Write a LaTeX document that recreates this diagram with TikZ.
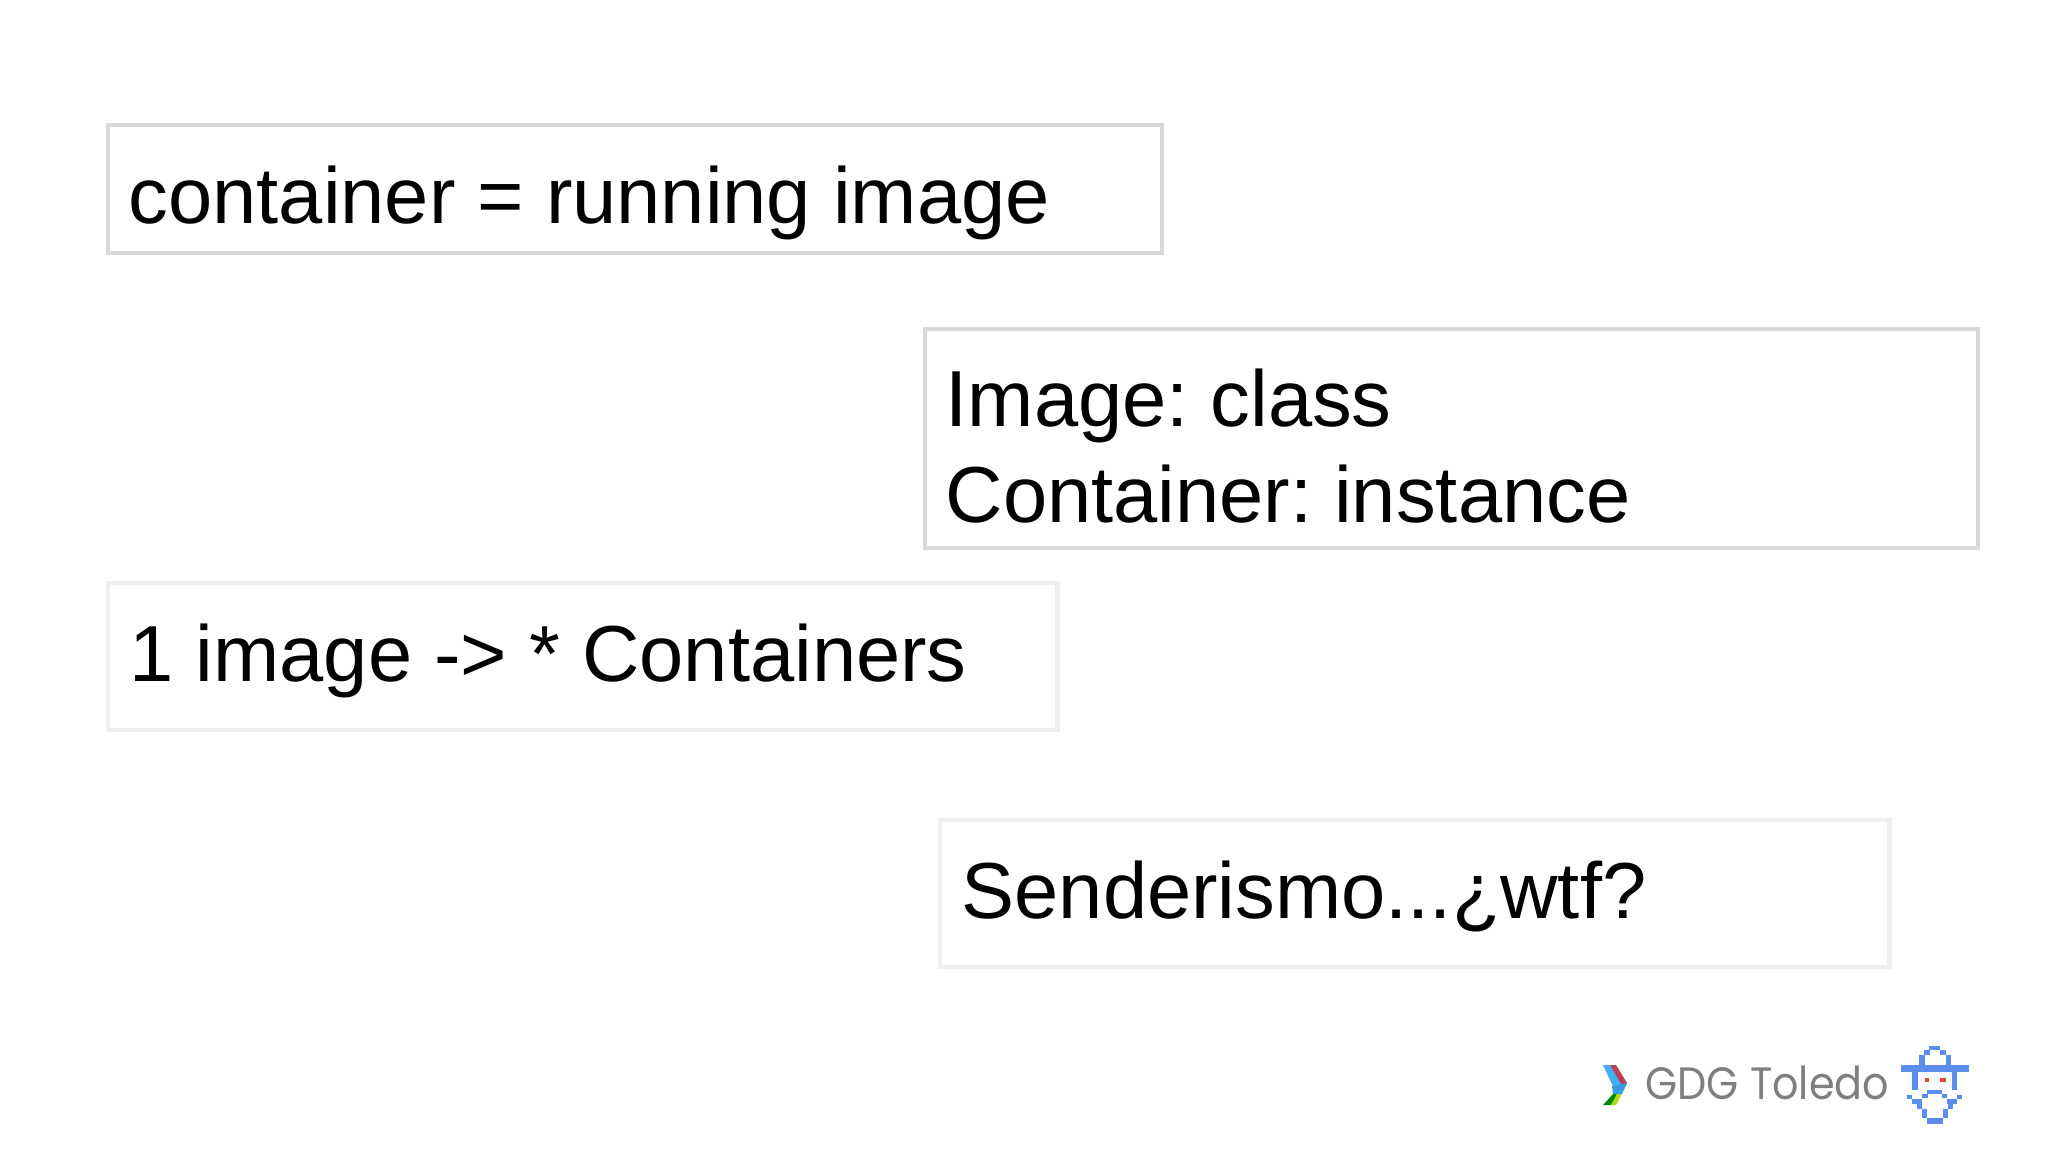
\documentclass[tikz,border=0pt]{standalone}
\usepackage{fontspec}
\setmainfont{Liberation Sans}
\newfontfamily\logofont{Poppins}
\usetikzlibrary{positioning}
\definecolor{boxdark}{HTML}{D9D9D9}
\definecolor{boxlight}{HTML}{EFEFEF}
\definecolor{logoblue}{HTML}{5B8EEC}
\definecolor{logored}{HTML}{DB4A37}
\definecolor{logogray}{HTML}{7F7F7F}
\tikzset{
    slidebox/.style={draw=#1, line width=1.2pt, outer sep=0pt, inner sep=0pt, anchor=north west},
    slidetext/.style={font=\frenchspacing\fontsize{22.6}{27.3}\selectfont, inner sep=0pt, anchor=base west, align=left},
}

\begin{document}
\begin{tikzpicture}[x=0.01cm, y=-0.01cm]
    \useasboundingbox (0,0) rectangle (2048,1152);

    \node[slidebox=boxdark, minimum width=10.53cm, minimum height=1.28cm] (running) at (108,125) {};
    \node[slidebox=boxdark, minimum width=10.52cm, minimum height=2.19cm] (classes) at (925,329) {};
    \node[slidebox=boxlight, minimum width=9.49cm, minimum height=1.47cm] (many) at (108,583) {};
    \node[slidebox=boxlight, minimum width=9.49cm, minimum height=1.47cm] (hiking) at (940,820) {};

    \node[slidetext] (runningtext) at (128,224) {container = running image};
    \node[slidetext] (classestext) at (945,523) {Image: class\\Container: instance};
    \node[slidetext] (manytext) at (129,682) {1 image -> * Containers};
    \node[slidetext] (hikingtext) at (961,918) {Senderismo...¿wtf?};

    % chevron
    \fill[logoblue!70!cyan] (1603,1065) -- (1610,1065) -- (1624,1083) -- (1617,1095) -- cycle;
    \fill[logored!85!blue] (1610,1065) -- (1616,1065) -- (1627,1083) -- (1624,1089) -- cycle;
    \fill[cyan!60!logoblue] (1612,1086) -- (1627,1083) -- (1622,1094) -- (1613,1094) -- cycle;
    \fill[green!55!black] (1613,1094) -- (1617,1094) -- (1614,1105) -- (1603,1105) -- cycle;
    \fill[yellow!70!green] (1617,1094) -- (1622,1094) -- (1616,1105) -- (1611,1105) -- cycle;

    \node[font=\logofont\fontsize{12.9}{15}\selectfont, text=logogray, inner sep=0pt, anchor=base west, xscale=0.91] (logotext) at (1645,1099) {GDG Toledo};

    % hat, face and beard
    \foreach \xa/\ya/\xb/\yb in {
        1929/1046/1940/1050, 1924/1050/1930/1055, 1940/1050/1946/1055,
        1919/1055/1925/1065, 1946/1055/1951/1065, 1901/1065/1969/1072,
        1912/1072/1918/1090, 1952/1072/1957/1090, 1927/1090/1942/1094,
        1922/1094/1928/1098, 1942/1094/1947/1098, 1907/1095/1912/1099,
        1957/1095/1962/1099, 1912/1099/1922/1104, 1947/1099/1957/1104,
        1917/1104/1922/1109, 1948/1104/1953/1109, 1922/1109/1927/1118,
        1943/1109/1948/1118, 1927/1118/1943/1124}
        \fill[logoblue] (\xa,\ya) rectangle (\xb,\yb);
    \fill[logored] (1925,1078) rectangle (1929,1082);
    \fill[logored] (1940,1078) rectangle (1946,1082);
\end{tikzpicture}
\end{document}
